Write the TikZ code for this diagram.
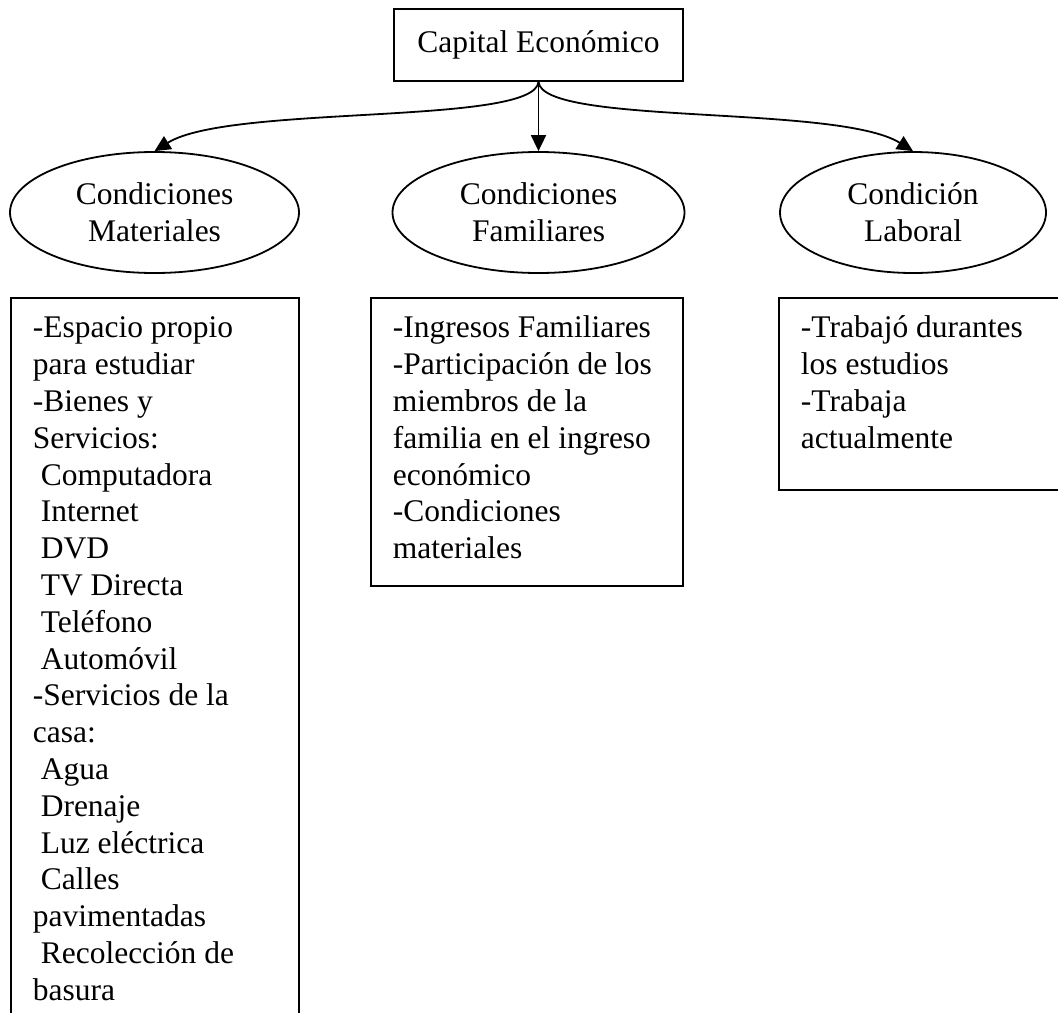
\documentclass[tikz,border=0pt]{standalone}
\usepackage{fontspec}
\setmainfont{Liberation Serif}
\usetikzlibrary{shapes.geometric,arrows.meta}
\newcommand{\diagfont}{\fontsize{15.75pt}{18.4pt}\selectfont}
\newcommand{\ind}{\hspace*{0.25em}}
\begin{document}
\begin{tikzpicture}[x=0.5pt, y=-0.5pt, line width=0.9pt, font=\diagfont,
  topbox/.style={draw, rectangle, minimum width=144.5pt, minimum height=36pt, inner sep=0pt},
  cond/.style={draw, ellipse, minimum width=#1, minimum height=60.5pt, inner sep=0pt, align=center},
  listbox/.style={draw, rectangle, anchor=north west, align=flush left, inner xsep=11pt, inner ysep=0pt,
    execute at begin node={\rule{0pt}{20pt}}, execute at end node={\rule[-#1]{0pt}{#1}}},
  arr/.style={-{Triangle[length=8pt,width=7.5pt]}}]
  \useasboundingbox (0,0) rectangle (1058,1012);
  \node[topbox] (cap) at (538.5,45) {Capital Económico};
  \node[cond=144.5pt] (mat) at (154.5,212.5) {Condiciones\\Materiales};
  \node[cond=146pt] (fam) at (538.5,212.5) {Condiciones\\Familiares};
  \node[cond=133pt] (lab) at (913,212.5) {Condición\\Laboral};
  \node[listbox=40pt, text width=122pt] (lmat) at (10,297) {-Espacio propio\\para estudiar\\-Bienes y\\Servicios:\\
    \ind Computadora\\\ind Internet\\\ind DVD\\\ind TV Directa\\\ind Teléfono\\\ind Automóvil\\
    -Servicios de la\\casa:\\\ind Agua\\\ind Drenaje\\\ind Luz eléctrica\\\ind Calles\\pavimentadas\\
    \ind Recolección de\\basura};
  \node[listbox=13.5pt, text width=134pt] (lfam) at (370,297) {-Ingresos Familiares\\-Participación de los\\
    miembros de la\\familia en el ingreso\\económico\\-Condiciones\\materiales};
  \node[listbox=21pt, text width=128pt] (llab) at (778,297) {-Trabajó durantes\\los estudios\\-Trabaja\\actualmente};
  \draw[arr] (cap.south) .. controls +(-4,44) and +(75,-47) .. (mat.north);
  \draw[arr] (cap.south) -- (fam.north);
  \draw[arr] (cap.south) .. controls +(4,44) and +(-75,-47) .. (lab.north);
\end{tikzpicture}
\end{document}
